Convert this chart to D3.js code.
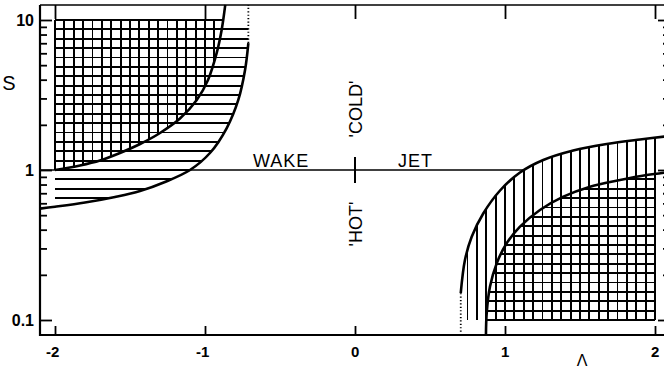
<!DOCTYPE html>
<html>
<head>
<meta charset="utf-8">
<script src="https://cdn.jsdelivr.net/npm/d3@7"></script>
<style>
  html, body { margin: 0; padding: 0; background: #fff; overflow: hidden; }
  svg text { font-family: "Liberation Sans", Arial, Helvetica, sans-serif; fill: #000; }
</style>
</head>
<body>
<svg id="chart" width="664" height="370"></svg>
<script>
// Axis ticks and labels
const lamTicks = [-2, -1, 0, 1, 2];
const lamTickLabels = ["-2", "-1", "0", "1", "2"];
const sMajor = [0.1, 1, 10];
const sMajorLabels = ["0.1", "1", "10"];

// Wake side: convective boundary and absolute-instability boundary, [Λ, S]
const wakeOuter = [
  [-2.1, 0.553], [-2.0, 0.569], [-1.8, 0.607], [-1.6, 0.661], [-1.433, 0.724],
  [-1.267, 0.832], [-1.1, 1.0], [-0.967, 1.298], [-0.855, 1.905], [-0.778, 2.93],
  [-0.733, 4.64], [-0.711, 7.02]
];
const wakeInner = [
  [-2.0, 1.0], [-1.833, 1.072], [-1.7, 1.157], [-1.567, 1.298], [-1.433, 1.49],
  [-1.3, 1.765], [-1.167, 2.203], [-1.055, 2.93], [-0.98, 3.98], [-0.922, 6.03],
  [-0.889, 8.58], [-0.865, 12.6]
];

// Jet side: convective boundary and absolute-instability boundary, [Λ, S]
const jetOuter = [
  [0.705, 0.151], [0.733, 0.251], [0.778, 0.359], [0.855, 0.513], [0.967, 0.73],
  [1.1, 0.962], [1.255, 1.166], [1.455, 1.349], [1.678, 1.49], [1.9, 1.597],
  [2.1, 1.686]
];
const jetInner = [
  [0.873, 0.0794], [0.878, 0.111], [0.9, 0.167], [0.945, 0.239], [1.011, 0.325],
  [1.1, 0.419], [1.233, 0.541], [1.389, 0.664], [1.567, 0.774], [1.767, 0.858],
  [1.945, 0.926], [2.1, 0.97]
];

// Dotted continuations of the convective boundaries
const wakeAsymptote = [[-0.711, 7.02], [-0.711, 12.6]];
const jetAsymptote = [[0.705, 0.151], [0.705, 0.0794]];

// S = 1 reference line (wake | jet divide)
const refLine = [[-2.1, 1], [1.12, 1]];

// Hatch spacing: sixteenth of a Λ unit / sixteenth of a decade
const hatchStep = 1 / 16;

const svg = d3.select("#chart");
const x = d3.scaleLinear().domain([-2.1, 2.1]).range([40, 670]);
const y = d3.scaleLog().domain([Math.pow(10, -1.1), Math.pow(10, 1.1)]).range([335, 5]);

const curve = d3.line().x(d => x(d[0])).y(d => y(d[1])).curve(d3.curveCatmullRom.alpha(0.5));
const straight = d3.line().x(d => x(d[0])).y(d => y(d[1]));
const L = p => `L${x(p[0])},${y(p[1])}`;
const region = (pts, extra) => curve(pts) + extra.map(L).join("") + "Z";

const defs = svg.append("defs");
function addClip(id, d) {
  defs.append("clipPath").attr("id", id).append("path").attr("d", d);
}
const topConv = Math.pow(10, 15.5 / 16);
addClip("wakeConv", region(wakeOuter, [[-0.711, topConv], [-2.1, topConv]]));
addClip("wakeAbs", region(wakeInner, [[-0.865, 12.6], [-2.1, 12.6], [-2.1, 1]]));
addClip("jetConv", region(jetOuter, [[2.1, 0.097], [0.705, 0.097]]));
addClip("jetAbs", region(jetInner, [[2.1, 0.0794]]));

const hatch = svg.append("g").attr("stroke", "#000").attr("stroke-width", 1.8)
  .attr("fill", "none").attr("shape-rendering", "crispEdges");

function hLines(clipId, sValues, x0, x1) {
  hatch.append("g").attr("clip-path", `url(#${clipId})`)
    .selectAll("line").data(sValues).join("line")
    .attr("x1", x(x0)).attr("x2", x(x1))
    .attr("y1", d => y(d)).attr("y2", d => y(d));
}
function vLines(clipId, lValues, s0, s1) {
  hatch.append("g").attr("clip-path", `url(#${clipId})`)
    .selectAll("line").data(lValues).join("line")
    .attr("x1", d => x(d)).attr("x2", d => x(d))
    .attr("y1", y(s0)).attr("y2", y(s1));
}

// Wake: horizontal hatch over the convective zone, cross hatch over the absolute zone
hLines("wakeConv", d3.range(-3, 17).map(k => Math.pow(10, k * hatchStep)), -2, -0.6);
hLines("wakeAbs", d3.range(0, 17).map(k => Math.pow(10, k * hatchStep)), -2, -0.8);
vLines("wakeAbs", d3.range(0, 22).map(j => -2 + j * hatchStep), 1, 10);

// Jet: vertical hatch over the convective zone, cross hatch over the absolute zone
vLines("jetConv", d3.range(0, 22).map(j => 2 - j * hatchStep), 0.1, 2.2);
hLines("jetAbs", d3.range(0, 17).map(k => Math.pow(10, -1 + k * hatchStep)), 0.8, 2);

// Boundary curves
const curves = svg.append("g").attr("fill", "none").attr("stroke", "#000")
  .attr("stroke-width", 2.6).attr("stroke-linejoin", "round");
[wakeOuter, wakeInner, jetOuter, jetInner].forEach(c => curves.append("path").attr("d", curve(c)));

svg.append("g").attr("stroke", "#000").attr("stroke-width", 1.8).attr("stroke-dasharray", "1.2,2.2")
  .selectAll("path").data([wakeAsymptote, jetAsymptote]).join("path").attr("d", straight);

svg.append("path").attr("d", straight(refLine)).attr("stroke", "#000").attr("stroke-width", 1.3);

// Frame
const frame = svg.append("g").attr("stroke", "#000").attr("fill", "none");
frame.append("line").attr("x1", x(-2.1)).attr("x2", x(2.1)).attr("y1", y.range()[0]).attr("y2", y.range()[0]).attr("stroke-width", 2.2);
frame.append("line").attr("x1", x(-2.1)).attr("x2", x(-2.1)).attr("y1", y.range()[0] + 1).attr("y2", y.range()[1]).attr("stroke-width", 2.2);
frame.append("line").attr("x1", x(-2.1)).attr("x2", x(2.1)).attr("y1", y.range()[1]).attr("y2", y.range()[1]).attr("stroke-width", 1.5);

// Ticks (all pointing inward)
const sMinor = y.ticks().filter(v => v >= 0.1 && v <= 10 && !sMajor.some(m => Math.abs(m - v) < 1e-9));
function tickAxis(axis, transform) {
  const g = svg.append("g").attr("transform", transform).call(axis);
  g.select(".domain").remove();
  g.selectAll(".tick line").attr("stroke", "#000").attr("stroke-width", 1.8);
  return g;
}
tickAxis(d3.axisLeft(y).tickValues(sMinor).tickSize(-7).tickFormat(""), `translate(${x(-2.1)},0)`);
const yMaj = tickAxis(d3.axisLeft(y).tickValues(sMajor).tickSize(-12).tickPadding(6)
  .tickFormat((d, i) => sMajorLabels[i]), `translate(${x(-2.1)},0)`);
yMaj.selectAll("text").attr("font-size", 16).attr("font-weight", "bold").attr("fill", "#000")
  .style("font-family", '"Liberation Sans", Arial, sans-serif');
tickAxis(d3.axisRight(y).tickValues(sMinor).tickSize(-7).tickFormat(""), `translate(${x(2.1)},0)`);
tickAxis(d3.axisRight(y).tickValues(sMajor).tickSize(-12).tickFormat(""), `translate(${x(2.1)},0)`);
tickAxis(d3.axisBottom(x).tickValues(lamTicks).tickSize(-9).tickFormat(""), `translate(0,${y.range()[0]})`);
tickAxis(d3.axisTop(x).tickValues(lamTicks).tickSize(-14).tickFormat(""), `translate(0,${y.range()[1]})`);

// Λ tick labels, digit centred on the tick
svg.append("g").selectAll("text").data(lamTicks).join("text")
  .attr("x", d => x(d) + 4.3).attr("y", 357)
  .attr("text-anchor", "end").attr("font-size", 15).attr("font-weight", "bold")
  .text((d, i) => lamTickLabels[i]);

// Cross mark at Λ = 0, S = 1
svg.append("line").attr("x1", x(0)).attr("x2", x(0)).attr("y1", y(1) - 13).attr("y2", y(1) + 13)
  .attr("stroke", "#000").attr("stroke-width", 2);

// Axis titles and region labels
svg.append("text").attr("x", 9).attr("y", 90).attr("text-anchor", "middle").attr("font-size", 20).text("S");
svg.append("text").attr("x", 582).attr("y", 366).attr("text-anchor", "middle").attr("font-size", 16).text("Λ");
svg.append("text").attr("x", 253).attr("y", 167).attr("font-size", 18).attr("letter-spacing", 1).text("WAKE");
svg.append("text").attr("x", 398).attr("y", 167).attr("font-size", 18).attr("letter-spacing", 1).text("JET");
svg.append("text").attr("transform", `translate(${x(0) + 7},${109}) rotate(-90)`)
  .attr("text-anchor", "middle").attr("font-size", 18).text("'COLD'");
svg.append("text").attr("transform", `translate(${x(0) + 7},${224}) rotate(-90)`)
  .attr("text-anchor", "middle").attr("font-size", 18).text("'HOT'");
</script>
</body>
</html>
